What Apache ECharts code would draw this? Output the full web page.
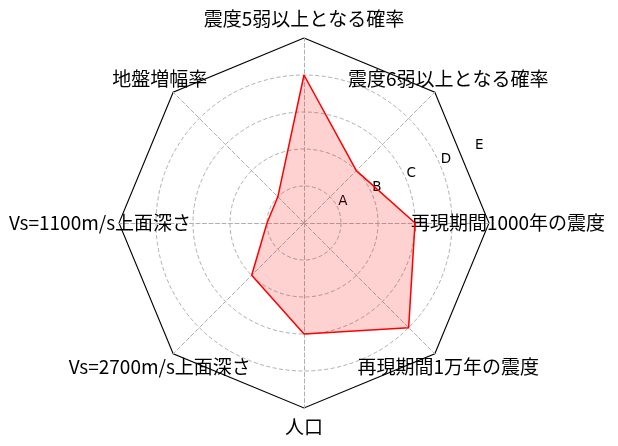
<!DOCTYPE html>
<html>
<head>
<meta charset="utf-8">
<script src="https://cdn.jsdelivr.net/npm/echarts@6/dist/echarts.min.js"></script>
<style>html,body{margin:0;padding:0;background:#fff}#c{width:618px;height:446px}</style>
</head>
<body>
<div id="c"></div>
<script>
// Axes listed counter-clockwise starting from the top
const categories = ['震度5弱以上となる確率', '地盤増幅率', 'Vs=1100m/s上面深さ', 'Vs=2700m/s上面深さ', '人口', '再現期間1万年の震度', '再現期間1000年の震度', '震度6弱以上となる確率'];
const values = [4, 1, 1, 2, 3, 4, 3, 2];
const ringLabels = ['A', 'B', 'C', 'D', 'E'];
const maxValue = 5;

const chart = echarts.init(document.getElementById('c'), null, {renderer: 'canvas'});
const center = [304, 223];
const radius = 185;
const cjk = '"Noto Sans CJK JP", "Noto Sans", sans-serif';
const grey = '#b0b0b0';
const dash = [4, 2.5];
const indicator = categories.map(n => ({name: n, max: maxValue, min: 0}));

chart.setOption({
  animation: false,
  backgroundColor: '#fff',
  radar: [
    {
      center: center, radius: radius, shape: 'circle', startAngle: 90,
      splitNumber: maxValue,
      indicator: indicator,
      axisName: {show: false},
      axisLine: {show: true, lineStyle: {color: grey, width: 1, type: dash}},
      splitLine: {show: true, lineStyle: {color: ['transparent', grey, grey, grey, grey, 'transparent'], width: 1, type: dash}},
      splitArea: {show: false},
      axisTick: {show: false}, axisLabel: {show: false}
    },
    {
      center: center, radius: radius, shape: 'polygon', startAngle: 90,
      splitNumber: 1,
      indicator: indicator,
      nameGap: 19,
      axisName: {show: true, color: '#000', fontSize: 19, fontFamily: cjk, align: 'center', verticalAlign: 'middle'},
      axisLine: {show: false},
      splitLine: {show: true, lineStyle: {color: ['transparent', '#000'], width: 1.1}},
      splitArea: {show: false},
      axisTick: {show: false}, axisLabel: {show: false}
    }
  ],
  polar: {center: center, radius: radius},
  angleAxis: {type: 'value', startAngle: 22.5, min: 0, max: 360, show: false},
  radiusAxis: {
    type: 'value', min: 0, max: maxValue, interval: 1,
    axisLine: {show: false}, axisTick: {show: false}, splitLine: {show: false},
    axisLabel: {
      show: true, margin: 0, align: 'left', verticalAlign: 'bottom',
      color: '#000', fontSize: 13.5, fontFamily: '"DejaVu Sans", sans-serif',
      formatter: v => ringLabels[v - 1] || ''
    }
  },
  series: [{
    type: 'radar',
    radarIndex: 1,
    symbol: 'none',
    silent: true,
    z: 3,
    lineStyle: {color: '#ff0000', width: 1.5},
    areaStyle: {color: 'rgba(255,0,0,0.25)'},
    data: [{value: values}]
  }]
});
</script>
</body>
</html>
